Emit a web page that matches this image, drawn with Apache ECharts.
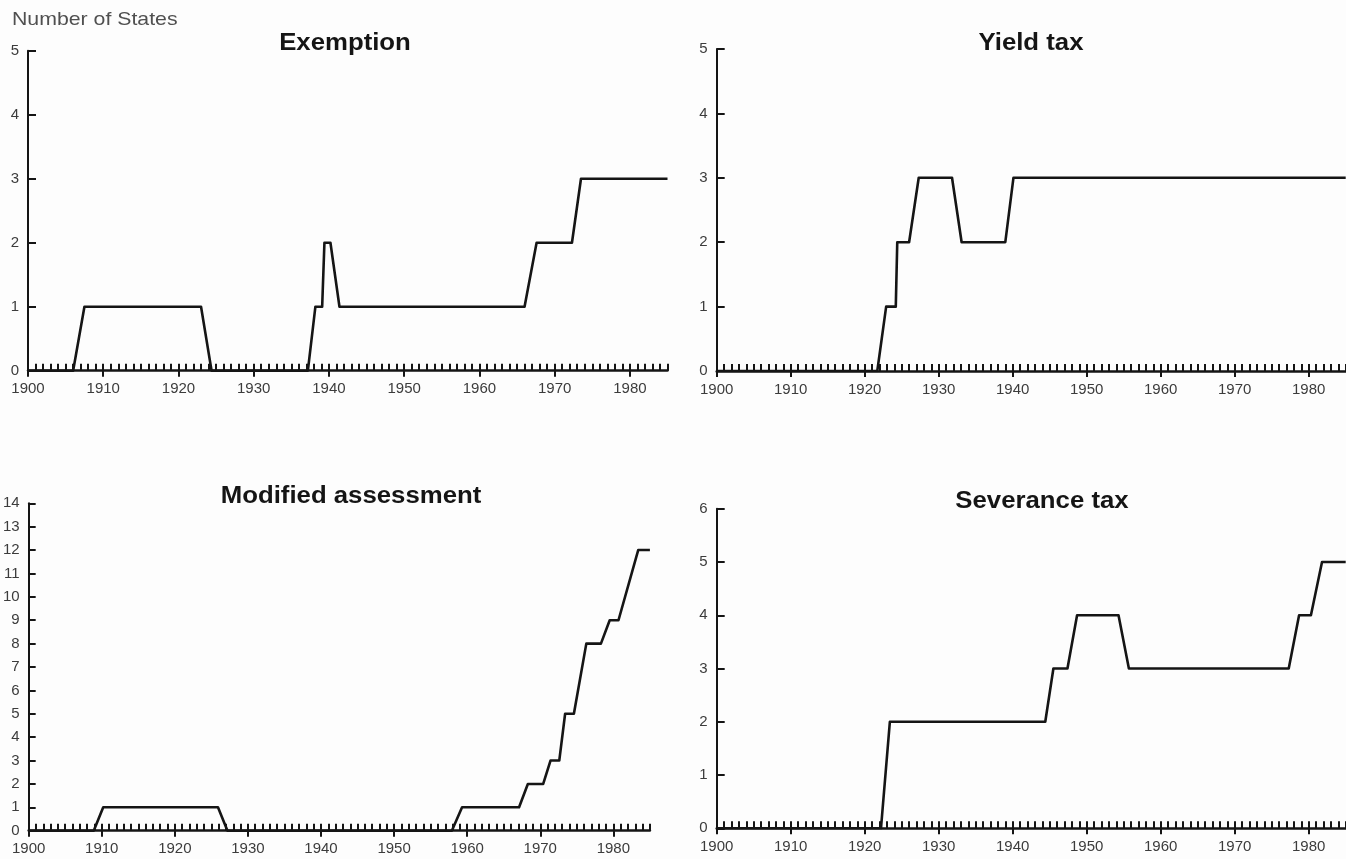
<!DOCTYPE html>
<html>
<head>
<meta charset="utf-8">
<script src="https://cdn.jsdelivr.net/npm/echarts@6/dist/echarts.min.js"></script>
<style>
html,body{margin:0;padding:0;background:#fdfdfd;}
#chart{width:1346px;height:859px;}
</style>
</head>
<body>
<div id="chart"></div>
<script>
// ---- Data (year, number of states) ----
const exemptionYears = [1900,1906,1907.5,1923,1924.4,1937.2,1938.2,1939.1,1939.4,1940.2,1941.4,1966,1967.6,1972.3,1973.5,1985];
const exemptionStates = [0,0,1,1,0,0,1,1,2,2,1,1,2,2,3,3];

const yieldYears = [1900,1921.7,1922.9,1924.2,1924.4,1926,1927.3,1931.8,1933.1,1939,1940.1,1985];
const yieldStates = [0,0,1,1,2,2,3,3,2,2,3,3];

const modifiedYears = [1900,1908.9,1910.2,1925.9,1927.2,1957.9,1959.3,1967.1,1968.3,1970.4,1971.4,1972.6,1973.4,1974.6,1976.3,1978.3,1979.5,1980.7,1983.4,1985];
const modifiedStates = [0,0,1,1,0,0,1,1,2,2,3,3,5,5,8,8,9,9,12,12];

const severanceYears = [1900,1922.2,1923.4,1944.4,1945.5,1947.4,1948.7,1954.3,1955.7,1977.3,1978.7,1980.3,1981.8,1985];
const severanceStates = [0,0,2,2,3,3,4,4,3,3,4,4,5,5];

const titles = ['Exemption', 'Yield tax', 'Modified assessment', 'Severance tax'];
const yMaxes = [5, 5, 14, 6];
const decadeLabels = [1900,1910,1920,1930,1940,1950,1960,1970,1980];
const yAxisTitle = 'Number of States';

// ---- Layout ----
const grids = [
  {left: 28, top: 50.7, width: 639.5, height: 320},
  {left: 716.7, top: 49, width: 629, height: 322},
  {left: 28.3, top: 503.3, width: 621.6, height: 327.4},
  {left: 716.7, top: 508.8, width: 629, height: 319.5}
];
const titlePos = [
  {x: 345, y: 43.5},
  {x: 1031, y: 43.5},
  {x: 351, y: 496.5},
  {x: 1042, y: 502}
];
const seriesYears = [exemptionYears, yieldYears, modifiedYears, severanceYears];
const seriesStates = [exemptionStates, yieldStates, modifiedStates, severanceStates];

const FONT = "'Liberation Sans', Arial, Helvetica, sans-serif";
const INK = '#151515';
const LABEL = '#3c3c3c';

const xAxes = [], yAxes = [], series = [], graphics = [];
grids.forEach((g, i) => {
  // major (decade) axis with labels, ticks pointing down
  xAxes.push({
    type: 'value', gridIndex: i, position: 'bottom', min: 1900, max: 1985, interval: 10,
    axisLine: {show: true, onZero: false, lineStyle: {color: INK, width: 2.5}},
    axisTick: {show: true, inside: false, length: 6, lineStyle: {color: INK, width: 2}, customValues: decadeLabels},
    axisLabel: {show: true, color: LABEL, fontSize: 15, fontFamily: FONT, margin: 11,
      customValues: decadeLabels, formatter: v => String(v)},
    splitLine: {show: false}
  });
  // minor (yearly) axis, ticks pointing up
  xAxes.push({
    type: 'value', gridIndex: i, position: 'bottom', min: 1900, max: 1985, interval: 1,
    axisLine: {show: false, onZero: false},
    axisTick: {show: true, inside: true, length: 7, lineStyle: {color: INK, width: 2}},
    axisLabel: {show: false},
    splitLine: {show: false}
  });
  yAxes.push({
    type: 'value', gridIndex: i, min: 0, max: yMaxes[i], interval: 1,
    axisLine: {show: true, lineStyle: {color: INK, width: 2}},
    axisTick: {show: true, inside: true, length: i === 2 ? 7 : 8, lineStyle: {color: INK, width: 2}},
    axisLabel: {show: true, color: LABEL, fontSize: 15, fontFamily: FONT, margin: 9},
    splitLine: {show: false}
  });
  series.push({
    type: 'line', xAxisIndex: i * 2, yAxisIndex: i,
    data: seriesYears[i].map((yr, k) => [yr, seriesStates[i][k]]),
    showSymbol: false, symbol: 'none', animation: false, z: 5,
    lineStyle: {color: INK, width: 2.6, join: 'round'}
  });
  graphics.push({
    type: 'text', x: titlePos[i].x, y: titlePos[i].y, scaleX: 1.12,
    style: {text: titles[i], fill: INK, font: "bold 23px " + FONT,
      textAlign: 'center', align: 'center', textVerticalAlign: 'middle', verticalAlign: 'middle'}
  });
});
graphics.push({
  type: 'text', x: 12, y: 20, scaleX: 1.12,
  style: {text: yAxisTitle, fill: '#505050', font: "19px " + FONT,
    textAlign: 'left', align: 'left', textVerticalAlign: 'middle', verticalAlign: 'middle'}
});

const chart = echarts.init(document.getElementById('chart'));
chart.setOption({
  backgroundColor: '#fdfdfd',
  animation: false,
  grid: grids.map(g => Object.assign({containLabel: false}, g)),
  xAxis: xAxes,
  yAxis: yAxes,
  series: series,
  graphic: graphics
});
</script>
</body>
</html>
